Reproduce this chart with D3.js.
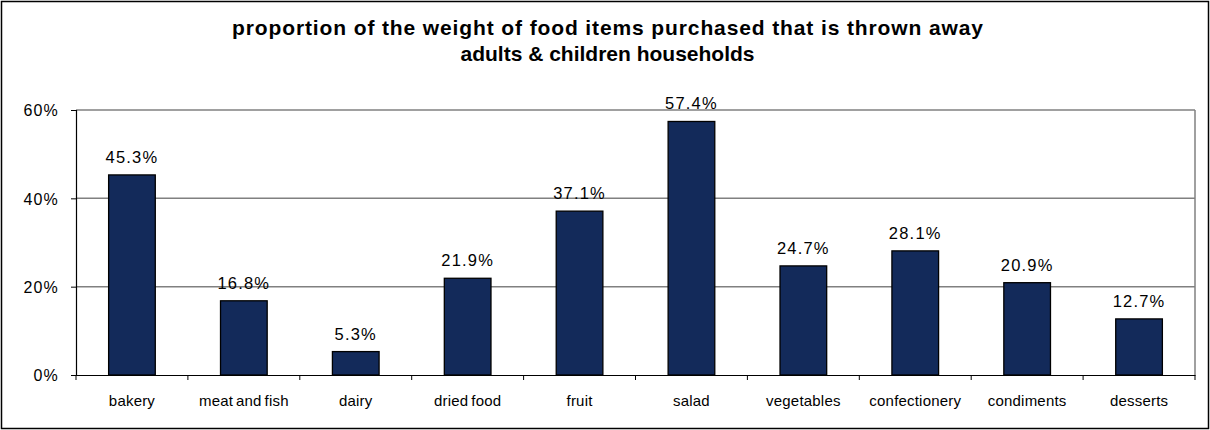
<!DOCTYPE html>
<html><head><meta charset="utf-8">
<script src="https://cdn.jsdelivr.net/npm/d3@7/dist/d3.min.js"></script>
<style>body{margin:0;background:#fff}svg{display:block}</style>
</head><body><svg id="c" width="1210" height="430"></svg>
<script>
const categories = ["bakery","meat and fish","dairy","dried food","fruit","salad","vegetables","confectionery","condiments","desserts"];
const values = [45.3,16.8,5.3,21.9,37.1,57.4,24.7,28.1,20.9,12.7];
const yTicks = [0,20,40,60];
const titleLines = ["proportion of the weight of food items purchased that is thrown away","adults & children households"];

const svg = d3.select("#c");
const W = 1210, H = 430;
const m = {left:76, right:1195, top:110, bottom:375};

svg.append("rect").attr("x",1.5).attr("y",1.5).attr("width",W-3).attr("height",H-3)
  .attr("fill","#fff").attr("stroke","#000").attr("stroke-width",1.5);

const x = d3.scaleBand().domain(categories).range([m.left,m.right]).paddingInner(0.583).paddingOuter(0.2915);
const xb = d3.scaleBand().domain(categories).range([m.left,m.right]);
const y = d3.scaleLinear().domain([0,60]).range([m.bottom,m.top]);

// gridlines
svg.append("g").selectAll("line").data(yTicks.filter(d=>d>0)).join("line")
  .attr("x1",m.left).attr("x2",m.right).attr("y1",d=>y(d)).attr("y2",d=>y(d))
  .attr("stroke","#808080").attr("stroke-width",1.5);
// right border of plot
svg.append("line").attr("x1",m.right).attr("x2",m.right).attr("y1",m.top).attr("y2",m.bottom)
  .attr("stroke","#808080").attr("stroke-width",1.5);

// bars
svg.append("g").selectAll("rect").data(values).join("rect")
  .attr("x",(d,i)=>x(categories[i])).attr("width",x.bandwidth())
  .attr("y",d=>y(d)).attr("height",d=>y(0)-y(d))
  .attr("fill","#132a5a").attr("stroke","#000").attr("stroke-width",1.3);

// labels
svg.append("g").selectAll("text").data(values).join("text")
  .attr("x",(d,i)=>x(categories[i])+x.bandwidth()/2).attr("y",d=>y(d)-12)
  .attr("text-anchor","middle").attr("font-family","'Liberation Sans', Arial, sans-serif").attr("font-size",16.5)
  .attr("letter-spacing",1.2).attr("fill","#000").text(d=>d.toFixed(1)+"%");

// y axis
const ya = svg.append("g").attr("transform",`translate(${m.left},0)`)
  .call(d3.axisLeft(y).tickValues(yTicks).tickFormat(d=>d+"%").tickSize(5).tickPadding(12));
ya.select(".domain").attr("stroke","#000").attr("stroke-width",1.2);
ya.selectAll(".tick line").attr("stroke","#000");
ya.selectAll("text").attr("font-family","'Liberation Sans', Arial, sans-serif").attr("font-size",16)
  .attr("letter-spacing",1.2).attr("fill","#000").attr("dy","0.36em");

// x axis
const xa = svg.append("g").attr("transform",`translate(0,${m.bottom})`)
  .call(d3.axisBottom(xb).tickSize(0).tickPadding(20));
xa.select(".domain").attr("stroke","#000").attr("stroke-width",1.2);
xa.selectAll("text").attr("font-family","'Liberation Sans', Arial, sans-serif").attr("font-size",15)
  .attr("letter-spacing",0.2).attr("word-spacing",-1.5).attr("fill","#000");
// category boundary ticks
const bounds = categories.map(c=>xb(c)).concat([m.right]);
svg.append("g").selectAll("line").data(bounds).join("line")
  .attr("x1",d=>d).attr("x2",d=>d).attr("y1",m.bottom).attr("y2",m.bottom+5)
  .attr("stroke","#000").attr("stroke-width",1);

// title
const tw = [751, null];
svg.append("g").selectAll("text").data(titleLines).join("text")
  .attr("x",607.5).attr("y",(d,i)=>35+i*26)
  .attr("text-anchor","middle").attr("font-family","'Liberation Sans', Arial, sans-serif")
  .attr("font-weight","bold").attr("font-size",21).attr("fill","#000")
  .each(function(d,i){ if(tw[i]){ d3.select(this).attr("textLength",tw[i]).attr("lengthAdjust","spacing"); } })
  .text(d=>d);
</script></body></html>
